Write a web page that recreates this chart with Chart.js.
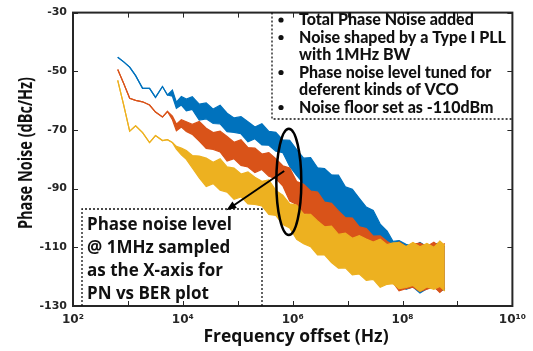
<!DOCTYPE html>
<html lang="en">
<head>
<meta charset="UTF-8">
<title>Phase Noise</title>
<script src="https://cdn.jsdelivr.net/npm/chart.js"></script>
<style>
  html, body { margin: 0; padding: 0; background: #fff; }
</style>
</head>
<body>
<canvas id="myChart" width="533" height="351"></canvas>
<script>
// offset frequency (Hz), shared by all three curves
var freqs = [652, 838, 1076, 1381, 1849, 2476, 3179, 4256, 5242, 6457, 7627, 9395, 11570,
  14855, 19890, 26630, 35650, 47720, 63900, 85540, 114500, 153300, 205200,
  274800, 367800, 492500, 659200, 882600, 1181000, 1581000, 2117000, 2835000, 3795000,
  5081000, 6802000, 9107000, 12190000, 16320000, 21850000, 29260000, 39170000, 52430000, 67320000,
  86440000, 115700000, 154900000, 207400000, 277700000, 371700000, 477200000, 587900000];

// upper / lower edge of each noisy trace (dBc/Hz)
var blueTop = [-45.2, -46.8, -48.6, -51.5, -55.8, -55.8, -58.9, -55.2, -58.1, -56.4, -60.5, -58.6, -59.5,
  -58.7, -61.2, -60.8, -62.9, -61.6, -64.3, -65.9, -65.5, -67.2, -69.0,
  -67.9, -70.5, -70.8, -73.4, -73.5, -76.7, -79.6, -79.4, -82.9, -83.2,
  -85.3, -85.4, -89.4, -90.2, -93.3, -96.3, -97.4, -102.1, -104.5, -108.0,
  -107.7, -109.0, -109.7, -108.3, -109.8, -108.9, -108.6, -109.7];
var blueBot = [-45.2, -46.8, -48.6, -51.5, -55.8, -55.8, -58.9, -55.2, -58.1, -58.5, -62.6, -61.5, -63.5,
  -63.0, -66.6, -66.2, -67.8, -67.9, -70.6, -70.8, -71.3, -74.0, -73.0,
  -75.1, -75.2, -77.2, -77.7, -82.4, -85.5, -88.3, -91.6, -92.0, -95.0,
  -96.0, -99.5, -100.6, -101.8, -104.9, -105.0, -107.6, -109.8, -110.6, -119.2,
  -121.7, -124.3, -123.5, -125.6, -124.1, -123.6, -125.0, -124.3];

var redTop = [-49.4, -54.2, -59.2, -59.9, -60.4, -61.5, -63.9, -65.6, -63.7, -65.3, -68, -66.5, -67.2,
  -68.1, -67.1, -69.4, -70.9, -70.4, -72.2, -74.2, -73.3, -76.0, -76.2,
  -78.2, -77.7, -79.8, -82.2, -83.0, -87.6, -88.5, -90.8, -91.2, -94.6,
  -95.0, -97.6, -99.9, -100.0, -103.0, -103.6, -106.2, -106.1, -108.0, -109.2,
  -108.2, -109.8, -108.9, -108.6, -109.7, -108.3, -109.8, -108.7];
var redBot = [-49.4, -54.2, -59.2, -59.9, -60.4, -61.5, -63.9, -65.6, -63.7, -66.5, -70.3, -69, -70.5,
  -71.5, -73.8, -76.3, -76.6, -77.5, -80.6, -79.8, -82.1, -82.6, -84.5,
  -83.5, -85.8, -86.6, -89.0, -94.2, -95.4, -98.4, -98.8, -101.9, -102.7,
  -103.6, -106.4, -106.0, -108.0, -109.2, -108.8, -112.2, -115.7, -121.8, -122.0,
  -124.8, -124.1, -123.6, -125.0, -124.3, -123.4, -125.4, -123.8];

var yellowTop = [-53.1, -61.5, -70.4, -68.6, -70.9, -74.3, -71.9, -73.6, -73.3, -74.3, -75.6, -76.2, -77,
  -78.7, -78.9, -79.6, -81.0, -79.8, -82.6, -83.0, -85.0, -84.3, -86.1,
  -87.5, -87.0, -90.6, -92.2, -95.2, -95.6, -98.7, -98.8, -101.0, -103.0,
  -102.8, -105.6, -105.2, -106.9, -106.0, -107.2, -108.2, -107.2, -109.1, -108.5,
  -108.4, -109.7, -108.3, -109.8, -108.7, -110.0, -107.9, -109.4];
var yellowBot = [-53.1, -61.5, -70.4, -68.6, -70.9, -74.3, -71.9, -73.6, -73.3, -74.3, -76.5, -78.5, -80,
  -82.9, -86.3, -89.3, -88.3, -90.5, -91.2, -93.6, -92.8, -95.2, -95.4,
  -95.9, -98.8, -99.1, -102.2, -103.4, -107.3, -108.8, -109.8, -112.6, -112.6,
  -115.2, -117.1, -117.0, -119.4, -119.1, -121.3, -120.9, -123.6, -122.6, -122.4,
  -124.1, -123.7, -123.0, -125.0, -123.5, -124.3, -123.3, -124.9];

var xDecades = [2, 3, 4, 5, 6, 7, 8, 9, 10];
var xLabels = {2: '10\u00B2', 4: '10\u2074', 6: '10\u2076', 8: '10\u2078', 10: '10\u00B9\u2070'};
var yTicks = [-130, -110, -90, -70, -50, -30];

var notes = ['Total Phase Noise added', 'Noise shaped by a Type I PLL', 'with 1MHz BW',
  'Phase noise level tuned for', 'deferent kinds of VCO', 'Noise floor set as -110dBm'];
var bulletRows = [0, 1, 3, 5];
var callout = ['Phase noise level', '@ 1MHz sampled', 'as the X-axis for', 'PN vs BER plot'];

function pts(ys) {
  return ys.map(function (y, i) { return {x: freqs[i], y: y}; });
}

function band(top, bot, color, ord) {
  return [
    {data: pts(top), borderColor: color, backgroundColor: color, borderWidth: 1.2, pointRadius: 0, fill: false, order: ord},
    {data: pts(bot), borderColor: color, backgroundColor: color, borderWidth: 1.2, pointRadius: 0, fill: '-1', order: ord}
  ];
}

var ink = '#262626';

var decor = {
  id: 'decor',
  afterDraw: function (chart) {
    var ctx = chart.ctx, a = chart.chartArea;
    var xs = chart.scales.x, ys = chart.scales.y;
    ctx.save();

    // frame + inward ticks
    ctx.strokeStyle = ink;
    ctx.lineWidth = 2;
    ctx.strokeRect(a.left, a.top, a.right - a.left, a.bottom - a.top);
    ctx.lineWidth = 1;
    ctx.beginPath();
    xDecades.forEach(function (d) {
      var px = Math.round(xs.getPixelForValue(Math.pow(10, d))) + 0.5;
      ctx.moveTo(px, a.bottom); ctx.lineTo(px, a.bottom - 5);
      ctx.moveTo(px, a.top); ctx.lineTo(px, a.top + 5);
    });
    yTicks.forEach(function (v) {
      var py = Math.round(ys.getPixelForValue(v)) + 0.5;
      ctx.moveTo(a.left, py); ctx.lineTo(a.left + 5, py);
      ctx.moveTo(a.right, py); ctx.lineTo(a.right - 5, py);
    });
    ctx.stroke();

    // axis titles
    ctx.fillStyle = '#111';
    ctx.textAlign = 'center';
    ctx.textBaseline = 'alphabetic';
    ctx.font = 'bold 17.5px "Open Sans"';
    ctx.fillText('Frequency offset (Hz)', 296, 342);
    ctx.save();
    ctx.translate(32, 153);
    ctx.rotate(-Math.PI / 2);
    ctx.scale(1, 1.35);
    ctx.font = 'bold 14.5px "Open Sans"';
    ctx.fillText('Phase Noise (dBc/Hz)', 0, 0);
    ctx.restore();

    // dotted note boxes
    ctx.strokeStyle = '#111';
    ctx.lineWidth = 1.3;
    ctx.setLineDash([2, 2]);
    ctx.beginPath();
    ctx.moveTo(272, a.top); ctx.lineTo(272, 119); ctx.lineTo(a.right, 119);
    ctx.moveTo(82, a.bottom); ctx.lineTo(82, 209); ctx.lineTo(262, 209); ctx.lineTo(262, a.bottom);
    ctx.stroke();
    ctx.setLineDash([]);

    ctx.textAlign = 'left';
    ctx.font = '900 16px Lato';
    notes.forEach(function (t, i) {
      var by = 25 + i * 17.5;
      ctx.fillText(t, 299, by);
      if (bulletRows.indexOf(i) >= 0) {
        ctx.beginPath();
        ctx.arc(281, by - 5, 2.6, 0, Math.PI * 2);
        ctx.fill();
      }
    });
    ctx.font = 'bold 17px "Open Sans"';
    callout.forEach(function (t, i) {
      ctx.fillText(t, 87, 230 + i * 23);
    });

    // ellipse around 1 MHz and arrow to the callout
    var cx = xs.getPixelForValue(850000), cy = ys.getPixelForValue(-87.7);
    var ry = (ys.getPixelForValue(-105.8) - ys.getPixelForValue(-69.6)) / 2;
    ctx.strokeStyle = '#000';
    ctx.lineWidth = 2.5;
    ctx.beginPath();
    ctx.ellipse(cx, cy, 12.5, ry, 0, 0, Math.PI * 2);
    ctx.stroke();

    var x0 = xs.getPixelForValue(700000), y0 = ys.getPixelForValue(-84);
    var x1 = xs.getPixelForValue(62000), y1 = ys.getPixelForValue(-97.4);
    var ang = Math.atan2(y1 - y0, x1 - x0);
    ctx.lineWidth = 2;
    ctx.beginPath();
    ctx.moveTo(x0, y0);
    ctx.lineTo(x1 - 6 * Math.cos(ang), y1 - 6 * Math.sin(ang));
    ctx.stroke();
    ctx.fillStyle = '#000';
    ctx.beginPath();
    ctx.moveTo(x1, y1);
    ctx.lineTo(x1 - 10 * Math.cos(ang) + 4 * Math.sin(ang), y1 - 10 * Math.sin(ang) - 4 * Math.cos(ang));
    ctx.lineTo(x1 - 10 * Math.cos(ang) - 4 * Math.sin(ang), y1 - 10 * Math.sin(ang) + 4 * Math.cos(ang));
    ctx.closePath();
    ctx.fill();

    ctx.restore();
  }
};

var ctx = document.getElementById('myChart').getContext('2d');
var myChart = new Chart(ctx, {
  type: 'line',
  data: {
    datasets: [].concat(
      band(yellowTop, yellowBot, '#EDB120', 1),
      band(redTop, redBot, '#D95319', 2),
      band(blueTop, blueBot, '#0072BD', 3)
    )
  },
  options: {
    responsive: false,
    animation: false,
    layout: {padding: {top: 8, right: 18, left: 0, bottom: 0}},
    plugins: {legend: {display: false}, tooltip: {enabled: false}},
    scales: {
      x: {
        type: 'logarithmic',
        min: 100,
        max: 1e10,
        afterBuildTicks: function (s) {
          s.ticks = xDecades.map(function (d) { return {value: Math.pow(10, d)}; });
        },
        afterFit: function (s) { s.height = 45; },
        grid: {drawOnChartArea: false, drawTicks: false},
        border: {display: false},
        ticks: {
          autoSkip: false,
          maxRotation: 0,
          padding: 7,
          color: ink,
          font: {family: 'DejaVu Sans', weight: 'bold', size: 12},
          callback: function (v) {
            var e = Math.round(Math.log10(v));
            return xLabels[e] || '';
          }
        }
      },
      y: {
        min: -130,
        max: -30,
        afterBuildTicks: function (s) {
          s.ticks = yTicks.map(function (v) { return {value: v}; });
        },
        afterFit: function (s) { s.width = 73; },
        grid: {drawOnChartArea: false, drawTicks: false},
        border: {display: false},
        ticks: {
          padding: 6,
          color: ink,
          font: {family: 'DejaVu Sans', weight: 'bold', size: 11}
        }
      }
    }
  },
  plugins: [decor]
});
</script>
</body>
</html>
